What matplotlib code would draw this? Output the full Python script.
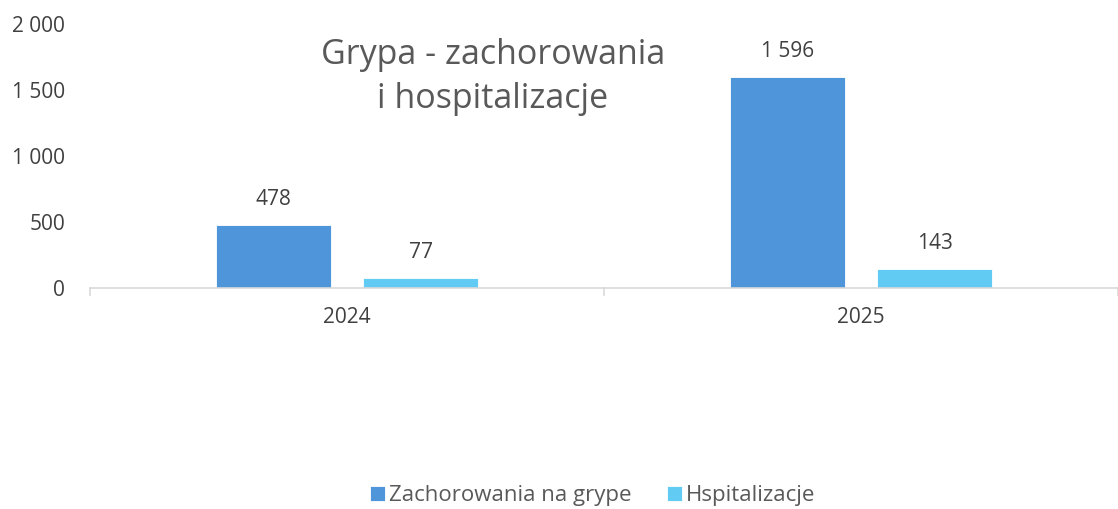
import matplotlib
matplotlib.use("Agg")
import matplotlib.pyplot as plt
import numpy as np

categories = ["2024", "2025"]
zachorowania = [478, 1596]
hospitalizacje = [77, 143]
series_names = ["Zachorowania na grype", "Hspitalizacje"]
yticks = [0, 500, 1000, 1500, 2000]
ytick_labels = ["0", "500", "1 000", "1 500", "2 000"]

plt.rcParams['font.family'] = ['Open Sans', 'DejaVu Sans']
W, H = 1118, 509
fig = plt.figure(figsize=(W/100, H/100), dpi=100)
ax = fig.add_axes([90/W, 1-288/H, 1-90/W, (288-24)/H])

blue = "#4E95D9"
cyan = "#61CBF3"
gray = "#404040"
tgray = "#595959"

x = np.arange(len(categories))
bw = 0.224
off = (bw + 0.062) / 2
b1 = ax.bar(x - off, zachorowania, bw, color=blue, label=series_names[0],
            edgecolor="white", linewidth=0.6)
b2 = ax.bar(x + off, hospitalizacje, bw, color=cyan, label=series_names[1],
            edgecolor="white", linewidth=0.6)

def fmt(v):
    return f"{v:,}".replace(",", " ")

for bars in (b1, b2):
    for r in bars:
        v = r.get_height()
        ax.annotate(fmt(int(v)), (r.get_x() + r.get_width()/2, v),
                    xytext=(0, 18.5), textcoords="offset points",
                    ha="center", va="center", fontsize=15, color=gray)

ax.set_xlim(-0.5, 1.5)
ax.set_ylim(0, 2000)
ax.set_yticks(yticks)
ax.set_yticklabels(ytick_labels, fontsize=15, color=gray)
ax.set_xticks(x)
ax.set_xticklabels(categories, fontsize=15, color=gray)
ax.tick_params(axis="y", length=0, pad=18)
ax.tick_params(axis="x", length=0, pad=14)
for s in ["top", "right", "left"]:
    ax.spines[s].set_visible(False)
ax.spines["bottom"].set_color("#D9D9D9")
ax.spines["bottom"].set_linewidth(1.2)
for xb in [-0.5, 0.5, 1.5]:
    ax.plot([xb, xb], [0, -0.025], transform=ax.get_xaxis_transform(),
            color="#D9D9D9", lw=1.2, clip_on=False)

fig.text(493/W, 1-77/H, "Grypa - zachorowania\ni hospitalizacje", ha="center",
         va="center", fontsize=24.5, color=tgray, linespacing=1.35)

leg = fig.legend(handles=[b1, b2], labels=series_names, loc="center",
                 bbox_to_anchor=(593/W, 1-496/H), ncol=2, frameon=False,
                 fontsize=16, labelcolor=tgray, handlelength=0.65, handleheight=0.65,
                 handletextpad=0.2, columnspacing=1.6)

fig.savefig("out.png", dpi=100)
